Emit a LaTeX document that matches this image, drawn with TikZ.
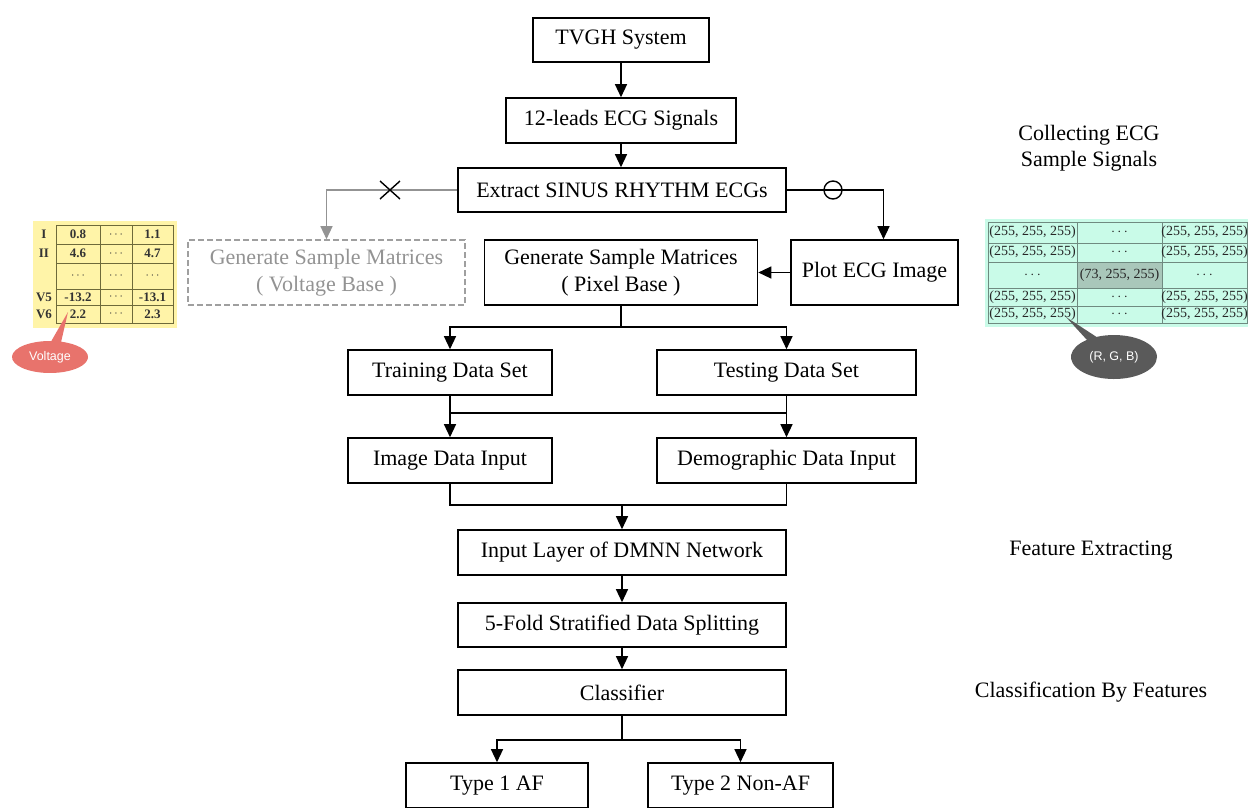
\documentclass[tikz,border=0pt]{standalone}
\usepackage{fontspec}
\setmainfont{Liberation Serif}
\newfontfamily\notefont{Liberation Sans}
\usetikzlibrary{arrows.meta,shapes.callouts}

\definecolor{voltbg}{HTML}{FFF4A8}
\definecolor{voltline}{HTML}{6E6A3A}
\definecolor{pixbg}{HTML}{C9FBE8}
\definecolor{pixline}{HTML}{6F8A80}
\definecolor{pixmark}{HTML}{A9C7BA}
\definecolor{voltred}{HTML}{E8736C}
\definecolor{rgbgray}{HTML}{5A5A5A}

\begin{document}
\begin{tikzpicture}[
  x=1pt, y=-1pt,
  box/.style={draw, line width=1.6pt, font=\fontsize{22}{27}\selectfont, align=center, inner sep=0pt},
  dimbox/.style={box, draw=gray!75, dash pattern=on 6pt off 3pt, text=gray!85},
  link/.style={line width=1.3pt},
  flow/.style={link, -{Triangle[length=13pt,width=12pt]}},
  dimflow/.style={flow, draw=gray!85},
  sidelabel/.style={font=\fontsize{22}{26}\selectfont, align=center},
  voltcell/.style={font=\fontsize{13}{15}\selectfont\bfseries, text=black!80},
  pixcell/.style={font=\fontsize{14}{16}\selectfont, text=black!85},
  dots/.style={font=\bfseries, text=black!80},
  note/.style={ellipse callout, text=white, font=\notefont\fontsize{12.5}{14}\selectfont, inner sep=0pt}
]
  \useasboundingbox (0,0) rectangle (1248,807);

  % Main flow boxes
  \node[box, minimum width=176pt, minimum height=44pt] (tvgh) at (621,40) {TVGH System};
  \node[box, minimum width=230pt, minimum height=45pt] (leads) at (621,120.5) {12-leads ECG Signals};
  \node[box, minimum width=328pt, minimum height=44pt] (extract) at (622,190) {Extract SINUS RHYTHM ECGs};
  \node[dimbox, minimum width=277pt, minimum height=65pt] (voltbase) at (326.5,272.5) {Generate Sample Matrices\\( Voltage Base )};
  \node[box, minimum width=273pt, minimum height=65pt] (pixbase) at (621,272.5) {Generate Sample Matrices\\( Pixel Base )};
  \node[box, minimum width=167pt, minimum height=65pt] (plot) at (874.5,272.5) {Plot ECG Image};
  \node[box, minimum width=204pt, minimum height=45pt] (train) at (450,372.5) {Training Data Set};
  \node[box, minimum width=259pt, minimum height=45pt] (test) at (786.5,372.5) {Testing Data Set};
  \node[box, minimum width=204pt, minimum height=45pt] (image) at (450,460.5) {Image Data Input};
  \node[box, minimum width=259pt, minimum height=45pt] (demo) at (786.5,460.5) {Demographic Data Input};
  \node[box, minimum width=328pt, minimum height=45pt] (inlayer) at (622,552.5) {Input Layer of DMNN Network};
  \node[box, minimum width=328pt, minimum height=44pt] (kfold) at (622,625) {5-Fold Stratified Data Splitting};
  \node[box, minimum width=328pt, minimum height=45pt] (classifier) at (622,692.5) {Classifier};
  \node[box, minimum width=182pt, minimum height=45pt] (typeone) at (497,785.5) {Type 1 AF};
  \node[box, minimum width=185pt, minimum height=45pt] (typetwo) at (740.5,785.5) {Type 2 Non-AF};

  % Stage labels on the right
  \node[sidelabel] (collect) at (1089,148) {Collecting ECG\\Sample Signals};
  \node[sidelabel] (feature) at (1091,551) {Feature Extracting};
  \node[sidelabel] (classify) at (1091,692) {Classification By Features};

  % Junction points
  \coordinate (split) at (621,327);
  \coordinate (mergeL) at (450,413);
  \coordinate (mergeR) at (786.5,413);
  \coordinate (join) at (622,505);
  \coordinate (fork) at (622,740);
  \coordinate (cross) at (390,190);
  \coordinate (ring) at (833,190);

  % Connectors
  \draw[flow] (tvgh) -- (leads);
  \draw[flow] (leads) -- (leads.south |- extract.north);
  \draw[dimflow] (extract.west) -| (voltbase.north);
  \draw[flow] (extract.east) -| ([xshift=9pt]plot.north);
  \draw[flow] (plot) -- (pixbase);
  \draw[link] (pixbase) -- (split);
  \draw[flow] (split) -| (train.north);
  \draw[flow] (split) -| (test.north);
  \draw[link] (train) -- (mergeL) -- (mergeR);
  \draw[link] (test) -- (mergeR);
  \draw[flow] (mergeL) -- (image);
  \draw[flow] (mergeR) -- (demo);
  \draw[link] (image.south) |- (join) -| (demo.south);
  \draw[flow] (join) -- (inlayer);
  \draw[flow] (inlayer) -- (kfold);
  \draw[flow] (kfold) -- (classifier);
  \draw[link] (classifier) -- (fork);
  \draw[flow] (fork) -| (typeone.north);
  \draw[flow] (fork) -| (typetwo.north);

  % Branch marks
  \draw[line width=1.4pt] ([shift={(-10,-9)}]cross) -- ([shift={(10,9)}]cross)
                          ([shift={(-10,9)}]cross) -- ([shift={(10,-9)}]cross);
  \draw[line width=1.4pt] (ring) circle (9pt);

  % Voltage sample matrix
  \fill[voltbg] (33,221) rectangle (177,328);
  \draw[voltline, line width=0.9pt] (56,225) rectangle (173,323);
  \foreach \y in {244,263,289,305}
    \draw[voltline, line width=0.9pt] (56,\y) -- (173,\y);
  \foreach \x in {100,132}
    \draw[voltline, line width=0.9pt] (\x,225) -- (\x,323);
  \foreach \y/\lab/\a/\c in {234.5/I/0.8/1.1, 253.5/II/4.6/4.7, 297/V5/-13.2/-13.1, 314/V6/2.2/2.3} {
    \node[voltcell] at (44,\y) {\lab};
    \node[voltcell] at (78,\y) {\a};
    \node[voltcell] at (116,\y) {$\cdots$};
    \node[voltcell] at (152.5,\y) {\c};
  }
  \foreach \x in {78,116,152.5}
    \node[voltcell] at (\x,276) {$\cdots$};

  % Pixel sample matrix
  \fill[pixbg] (985,219) rectangle (1248,327);
  \fill[pixmark] (1077,262) rectangle (1162,288);
  \draw[pixline, line width=0.9pt] (988,222) rectangle (1247,323);
  \foreach \y in {243,262,288,306}
    \draw[pixline, line width=0.9pt] (988,\y) -- (1247,\y);
  \foreach \x in {1077,1162}
    \draw[pixline, line width=0.9pt] (\x,222) -- (\x,323);
  \foreach \y in {232.5,252.5,297,314.5} {
    \node[pixcell] at (1032.5,\y) {(255, 255, 255)};
    \node[pixcell] at (1119.5,\y) {$\cdots$};
    \node[pixcell] at (1204.5,\y) {(255, 255, 255)};
  }
  \node[pixcell] at (1032.5,275) {$\cdots$};
  \node[pixcell] at (1119.5,275) {(73, 255, 255)};
  \node[pixcell] at (1204.5,275) {$\cdots$};

  % Callouts
  \node[note, fill=voltred, minimum width=76pt, minimum height=32pt,
        callout absolute pointer={(68,312)}] (voltnote) at (50,357) {Voltage};
  \node[note, fill=rgbgray, minimum width=86pt, minimum height=44pt,
        callout absolute pointer={(1066,317)}] (rgbnote) at (1114,357) {(R, G, B)};
\end{tikzpicture}
\end{document}
